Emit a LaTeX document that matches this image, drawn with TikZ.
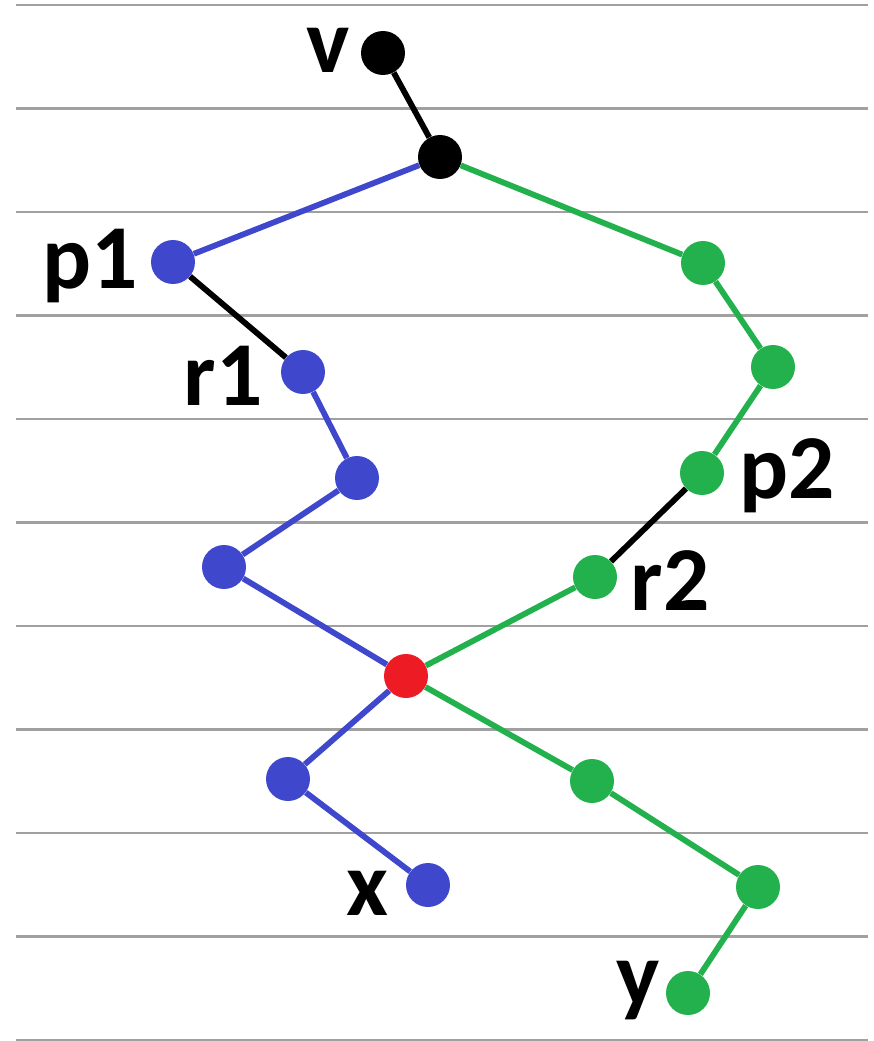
\documentclass[tikz,border=0pt]{standalone}
\usepackage{fontspec}
\setmainfont{Carlito}
\usepackage{tikz}
\definecolor{PathBlue}{HTML}{3F48CC}
\definecolor{PathGreen}{HTML}{22B14C}
\definecolor{MeetRed}{HTML}{ED1C24}
\definecolor{RuleGray}{HTML}{A0A0A0}

\begin{document}
\begin{tikzpicture}[x=0.02cm,y=-0.02cm,
  dot/.style={circle,inner sep=0pt,minimum size=0.88cm},
  link/.style={line width=3.3pt},
  tag/.style={anchor=base,font=\fontsize{52}{60}\selectfont\bfseries}]
\path[use as bounding box] (0,0) rectangle (874,1041);
% level rules
\foreach \k in {0,...,10}
  \draw[RuleGray,line width=1.5pt] (16,{5+103.5*\k}) -- (868,{5+103.5*\k});
% vertices
\node[dot,fill=black] (v) at (383,53) {};
\node[dot,fill=black] (top) at (440,157) {};
\node[dot,fill=PathBlue] (p1) at (173,262) {};
\node[dot,fill=PathBlue] (r1) at (303,372) {};
\node[dot,fill=PathBlue] (b1) at (357,478) {};
\node[dot,fill=PathBlue] (b2) at (224,567) {};
\node[dot,fill=MeetRed] (meet) at (406,676) {};
\node[dot,fill=PathBlue] (b3) at (288,779) {};
\node[dot,fill=PathBlue] (x) at (428,885) {};
\node[dot,fill=PathGreen] (g1) at (703,263) {};
\node[dot,fill=PathGreen] (g2) at (773,367) {};
\node[dot,fill=PathGreen] (p2) at (702,473) {};
\node[dot,fill=PathGreen] (r2) at (595,577) {};
\node[dot,fill=PathGreen] (g3) at (592,781) {};
\node[dot,fill=PathGreen] (g4) at (758,887) {};
\node[dot,fill=PathGreen] (y) at (688,993) {};
% edges
\draw[link,black] (v) -- (top);
\draw[link,black] (p1) -- (r1);
\draw[link,black] (p2) -- (r2);
\draw[link,PathBlue] (top) -- (p1);
\draw[link,PathBlue] (r1) -- (b1) -- (b2) -- (meet) -- (b3) -- (x);
\draw[link,PathGreen] (top) -- (g1) -- (g2) -- (p2);
\draw[link,PathGreen] (r2) -- (meet) -- (g3) -- (g4) -- (y);
% labels
\node[tag] (lv) at (328,72) {v};
\node[tag] (lp1) at (90,288) {p1};
\node[tag] (lr1) at (223,405) {r1};
\node[tag] (lp2) at (787,498) {p2};
\node[tag] (lr2) at (670,610) {r2};
\node[tag] (lx) at (367,915) {x};
\node[tag] (ly) at (638,1005) {y};
\end{tikzpicture}
\end{document}
